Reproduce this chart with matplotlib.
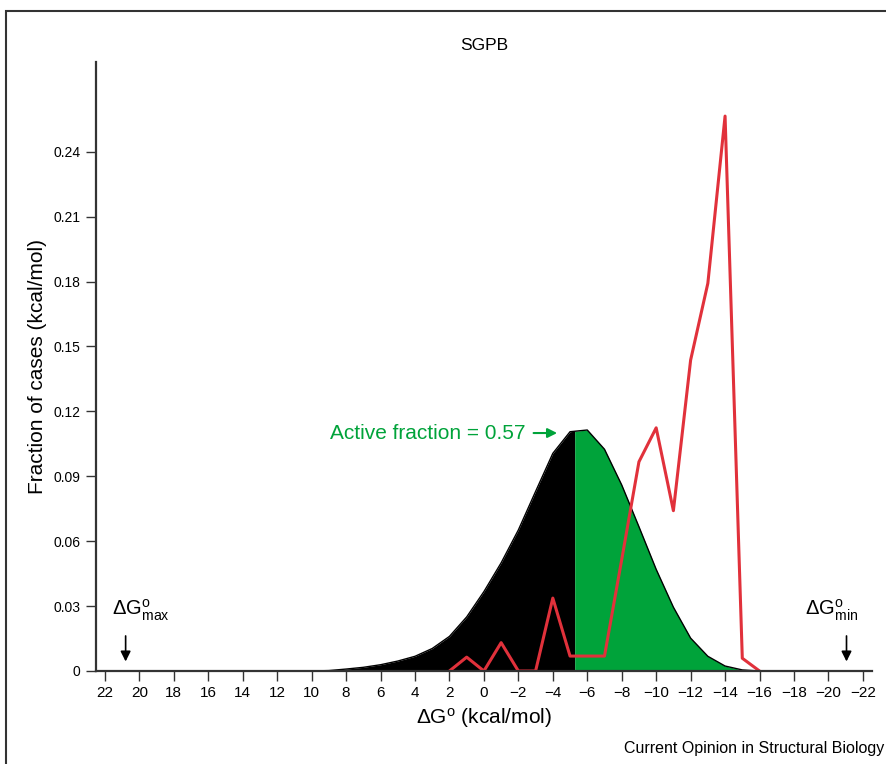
import numpy as np
import matplotlib.pyplot as plt
from matplotlib.patches import Rectangle

plt.rcParams['font.family'] = ['Liberation Sans', 'DejaVu Sans']
plt.rcParams['mathtext.fontset'] = 'custom'
plt.rcParams['mathtext.rm'] = 'Liberation Sans'
plt.rcParams['mathtext.it'] = 'Liberation Sans:italic'

# overall distribution of dG (filled curve)
curve_dg = [10, 9, 8, 7, 6, 5, 4, 3, 2, 1, 0, -1, -2, -3, -4, -5, -6, -7,
            -8, -9, -10, -11, -12, -13, -14, -15, -16]
curve_frac = [0.0, 0.0002, 0.0009, 0.0017, 0.0029, 0.0046, 0.0068, 0.0104,
              0.0160, 0.0250, 0.0367, 0.0500, 0.0652, 0.0830, 0.1006, 0.1106,
              0.1114, 0.1025, 0.0860, 0.0667, 0.0470, 0.0295, 0.0152, 0.0068,
              0.0023, 0.0005, 0.0]

# SGPB cases (red line)
sgpb_dg = [2, 1, 0, -1, -2, -3, -4, -5, -6, -7, -8, -9, -10, -11, -12, -13,
           -14, -15, -16]
sgpb_frac = [0.0, 0.0064, 0.0, 0.0131, 0.0, 0.0, 0.0337, 0.0069, 0.0069,
             0.0069, 0.0515, 0.0967, 0.1124, 0.0741, 0.1437, 0.1792, 0.2565,
             0.0059, 0.0]

split_dg = -5.27          # black / green boundary (active fraction = 0.57)
dg_max, dg_min = 20.8, -21.05

xticks = list(range(22, -23, -2))
xticklabels = [str(t).replace('-', '\u2212') for t in xticks]
yticks = [0, 0.03, 0.06, 0.09, 0.12, 0.15, 0.18, 0.21, 0.24]
yticklabels = ['0', '0.03', '0.06', '0.09', '0.12', '0.15', '0.18', '0.21', '0.24']

green = '#00a33a'
red = '#e1313b'
axis_col = '#333333'

fig = plt.figure(figsize=(8.86, 7.64), dpi=100)
ax = fig.add_axes([96 / 886, 93 / 764, 776 / 886, 609 / 764])

x = np.array(curve_dg, dtype=float)
y = np.array(curve_frac)
split_y = np.interp(split_dg, x[::-1], y[::-1])
left = x >= split_dg
xb = np.append(x[left], split_dg)
yb = np.append(y[left], split_y)
xg = np.insert(x[~left], 0, split_dg)
yg = np.insert(y[~left], 0, split_y)
ax.fill_between(xb, yb, 0, color='black', lw=0, zorder=1)
ax.fill_between(xg, yg, 0, color=green, lw=0, zorder=1)
ax.plot(x, y, color='black', lw=1, zorder=1.5)

ax.plot(sgpb_dg, sgpb_frac, color=red, lw=2.2, zorder=2)

ax.set_xlim(22.52, -22.53)
ax.set_ylim(0, 0.2815)
ax.set_xticks(xticks)
ax.set_xticklabels(xticklabels, fontsize=11)
ax.set_yticks(yticks)
ax.set_yticklabels(yticklabels, fontsize=10)
ax.tick_params(direction='out', length=7, width=1, color=axis_col, pad=4)
for side in ['top', 'right']:
    ax.spines[side].set_visible(False)
for side in ['left', 'bottom']:
    ax.spines[side].set_linewidth(1.6)
    ax.spines[side].set_color(axis_col)
    ax.spines[side].set_zorder(3)

ax.set_title('SGPB', fontsize=12.5, pad=9)
ax.set_xlabel(r'$\mathregular{\Delta G^{o}}$ (kcal/mol)', fontsize=15, labelpad=4)
ax.set_ylabel('Fraction of cases (kcal/mol)', fontsize=15, labelpad=5)

ax.annotate('Active fraction = 0.57', xy=(-4.25, 0.110), xytext=(-2.4, 0.110),
            ha='right', va='center', color=green, fontsize=15,
            arrowprops=dict(arrowstyle='-|>', color=green, lw=1.5,
                            shrinkA=4, shrinkB=0, mutation_scale=14))

for dg in [dg_max, dg_min]:
    ax.annotate('', xy=(dg, 0.0044), xytext=(dg, 0.0162),
                arrowprops=dict(arrowstyle='-|>', color='black', lw=1.2,
                                shrinkA=0, shrinkB=0, mutation_scale=15))
ax.text(21.61, 0.0259, r'$\mathregular{\Delta G^{o}_{max}}$', fontsize=14.5, va='baseline')
ax.text(-18.63, 0.0259, r'$\mathregular{\Delta G^{o}_{min}}$', fontsize=14.5, va='baseline')

fig.text(884 / 886, 1 - 748 / 764, 'Current Opinion in Structural Biology',
         ha='right', va='center', fontsize=11.5)
fig.patches.append(Rectangle((6 / 886, -0.1), 1.2, 1.1 - 11 / 764, fill=False,
                             lw=1.5, edgecolor=axis_col, transform=fig.transFigure))

fig.savefig('out.png', dpi=100)
